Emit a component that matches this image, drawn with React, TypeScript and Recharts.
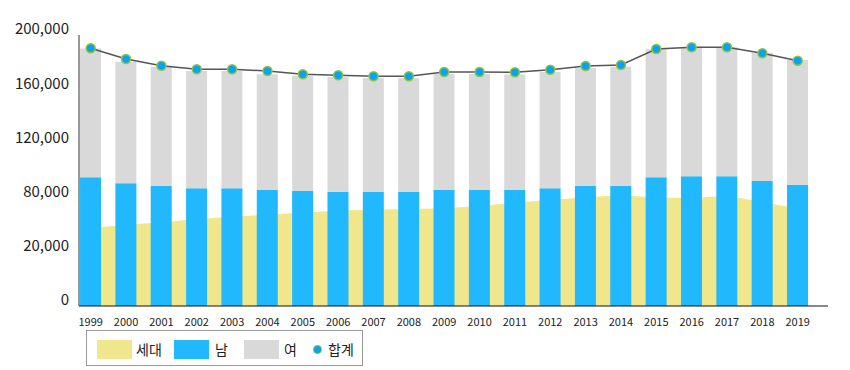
import { ComposedChart, Bar, Area, Line, XAxis, YAxis } from "recharts";

const years = [1999, 2000, 2001, 2002, 2003, 2004, 2005, 2006, 2007, 2008, 2009, 2010, 2011, 2012, 2013, 2014, 2015, 2016, 2017, 2018, 2019];
const households = [57600, 60000, 61800, 64200, 65800, 67500, 68900, 70500, 71000, 71600, 72100, 73800, 76300, 78200, 80200, 81700, 80100, 79700, 81300, 76800, 72000];
const male = [95000, 90600, 88800, 86900, 86900, 85800, 85100, 84400, 84100, 84100, 85800, 85800, 85800, 86900, 88600, 88800, 95000, 95700, 95700, 92300, 89500];
const female = [95000, 89700, 87800, 86500, 86500, 85200, 84900, 84600, 84200, 84200, 85400, 85400, 85000, 85800, 87000, 87800, 94400, 95200, 95200, 94600, 92000];
const totals = [190200, 182300, 177300, 174700, 174700, 173400, 171000, 170300, 169500, 169500, 172700, 172700, 172500, 174400, 177100, 177900, 189700, 190900, 190900, 186500, 181000];

const yTicks = [0, 40000, 80000, 120000, 160000, 200000];
const yTickLabels = ["0", "20,000", "80,000", "120,000", "160,000", "200,000"];

const COLORS = {
    households: "#f0e68c",
    male: "#22b8fd",
    female: "#d9d9d9",
    line: "#555555",
    dot: "#0ba3f0",
    dotStroke: "#8cc63f",
};

const FONT = "'Noto Sans CJK KR', 'Noto Sans', sans-serif";

const data = years.map((year, i) => ({
    year,
    세대: households[i],
    남: male[i],
    여: female[i],
    합계: totals[i],
}));

function ChartLegend() {
    const swatch = (left: number, color: string) => (
        <div style={{ position: "absolute", left, top: 9, width: 35, height: 19, background: color }} />
    );
    const label = (left: number, text: string) => (
        <div style={{ position: "absolute", left, top: 8, fontSize: 14, lineHeight: "20px", color: "#222" }}>{text}</div>
    );
    return (
        <div style={{
            position: "absolute", left: 86, top: 330, width: 275, height: 34,
            border: "1px solid #999", fontFamily: FONT, background: "#fff",
        }}>
            {swatch(10, COLORS.households)}
            {label(49, "세대")}
            {swatch(87, COLORS.male)}
            {label(128, "남")}
            {swatch(157, COLORS.female)}
            {label(197, "여")}
            <div style={{
                position: "absolute", left: 227, top: 15, width: 7, height: 7, borderRadius: "50%",
                background: COLORS.dot, boxShadow: `0 0 0 1px ${COLORS.dotStroke}`,
            }} />
            {label(241, "합계")}
        </div>
    );
}

export default function App() {
    return (
        <div style={{ position: "absolute", left: 0, top: 0, width: 850, height: 370 }}>
            <ComposedChart width={850} height={370} data={data}
                margin={{ top: 35, right: 22, bottom: 34, left: 0 }}
                style={{ fontFamily: FONT }}>
                <XAxis dataKey="year" type="number" domain={[1998.669, 2019.857]} ticks={years}
                    interval={0} tickLine={false} tickMargin={6} height={30}
                    axisLine={{ stroke: "#111" }}
                    tick={{ fontSize: 11, fill: "#222" }} tickFormatter={(v) => String(v)} />
                <YAxis type="number" domain={[0, 200000]} ticks={yTicks} width={79}
                    tickLine={false} tickSize={0} tickMargin={10}
                    axisLine={{ stroke: "#333" }}
                    tick={{ fontSize: 15, fill: "#222", dy: -6 }}
                    tickFormatter={(v) => yTickLabels[yTicks.indexOf(v)] ?? ""} />
                <Area dataKey="세대" type="linear" stroke="none" fill={COLORS.households}
                    fillOpacity={1} isAnimationActive={false} />
                <Bar dataKey="남" stackId="pop" fill={COLORS.male} barSize={21} isAnimationActive={false} />
                <Bar dataKey="여" stackId="pop" fill={COLORS.female} barSize={21} isAnimationActive={false} />
                <Line dataKey="합계" type="linear" stroke={COLORS.line} strokeWidth={1.5}
                    dot={{ r: 4.5, fill: COLORS.dot, stroke: COLORS.dotStroke, strokeWidth: 1.5 }}
                    isAnimationActive={false} />
            </ComposedChart>
            <ChartLegend />
        </div>
    );
}
